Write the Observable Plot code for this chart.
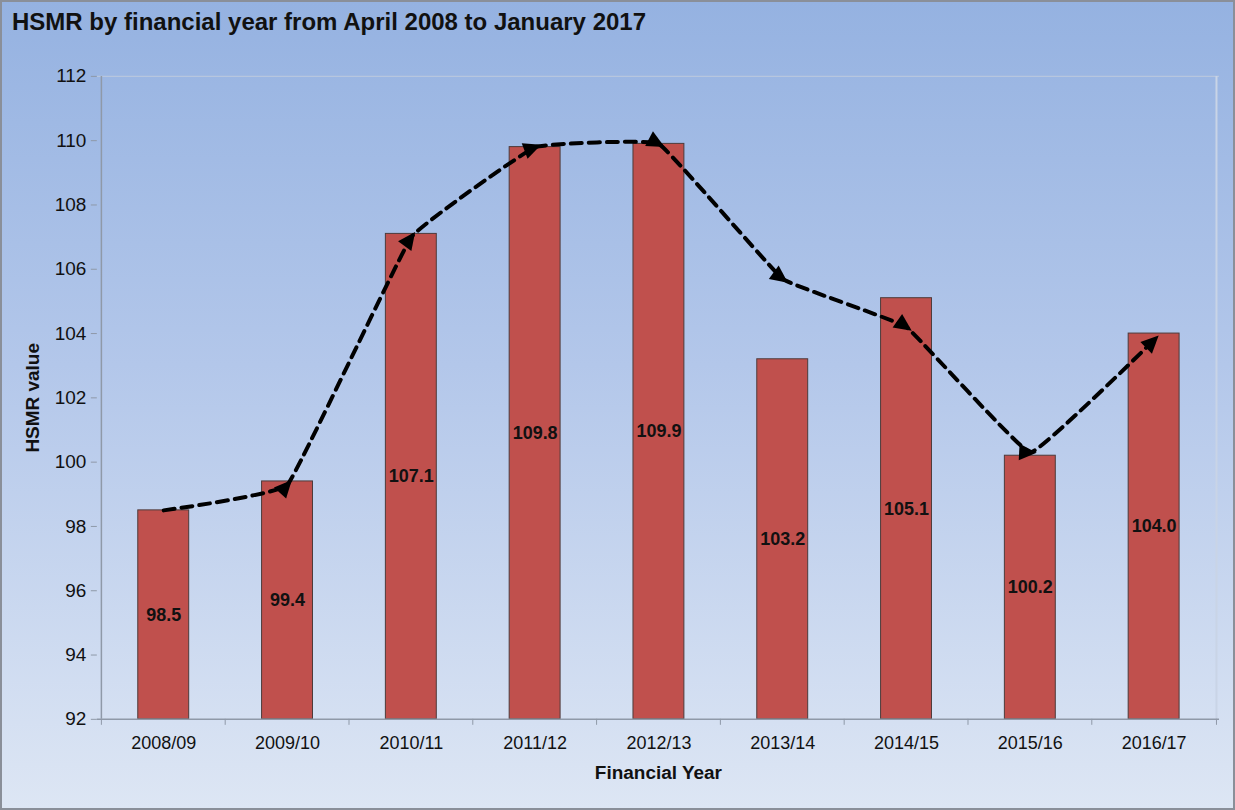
<!DOCTYPE html>
<html>
<head>
<meta charset="utf-8">
<script src="https://cdn.jsdelivr.net/npm/d3@7"></script>
<script src="https://cdn.jsdelivr.net/npm/@observablehq/plot@0.6"></script>
<style>
  html, body { margin: 0; padding: 0; }
  #wrap {
    position: relative; width: 1235px; height: 810px; box-sizing: border-box;
    border: 2px solid #8a8f99;
    background: linear-gradient(to bottom, #95b2e1 0%, #b3c7ea 45%, #dde6f4 100%);
    font-family: "Liberation Sans", Arial, sans-serif;
    overflow: hidden;
  }
  #title {
    position: absolute; left: 10px; top: 6px;
    font-size: 24px; font-weight: bold; color: #111;
  }
  #chart { position: absolute; left: -2px; top: -2px; }
  #chart svg { background: transparent; }
  #chart [aria-label="y-axis label"] text, #chart [aria-label="x-axis label"] text { font-weight: bold; font-size: 19px; }
</style>
</head>
<body>
<div id="wrap">
  <div id="title">HSMR by financial year from April 2008 to January 2017</div>
  <div id="chart"></div>
</div>
<script>
const years = ["2008/09","2009/10","2010/11","2011/12","2012/13","2013/14","2014/15","2015/16","2016/17"];
const hsmr  = [98.5, 99.4, 107.1, 109.8, 109.9, 103.2, 105.1, 100.2, 104.0];
const trend = [98.5, 99.3, 107.0, 109.8, 109.9, 105.7, 104.2, 100.3, 103.8];
const yTicks = [92, 94, 96, 98, 100, 102, 104, 106, 108, 110, 112];

const W = 1235, H = 810, ML = 97, MR = 14, MT = 76, MB = 90;
const step = (W - ML - MR) / years.length;
const bars = years.map((y, i) => ({year: y, v: hsmr[i]}));
const line = years.map((y, i) => ({year: y, v: trend[i]}));

const plot = Plot.plot({
  width: W, height: H,
  marginLeft: ML, marginRight: MR, marginTop: MT, marginBottom: MB,
  style: {background: "transparent", fontFamily: "Liberation Sans, Arial, sans-serif", color: "#111"},
  x: {domain: years, paddingInner: 0.59, paddingOuter: 0.295, label: null},
  y: {domain: [92, 112], label: null},
  marks: [
    Plot.ruleY([112], {stroke: "#b7c6de", strokeWidth: 1.5}),
    Plot.ruleX([years[years.length - 1]], {dx: step / 2, stroke: "#c9d4e6", strokeWidth: 2}),
    Plot.barY(bars, {x: "year", y1: 92, y2: "v", fill: "#C0504D", stroke: "#4d3b3b", strokeWidth: 1}),
    Plot.text(bars, {x: "year", y: d => (d.v + 92) / 2, text: d => d.v.toFixed(1), fontSize: 18, fontWeight: "bold", fill: "#111"}),
    Plot.line(line, {x: "year", y: "v", curve: "cardinal", tension: 0.78, stroke: "#000", strokeWidth: 4,
      strokeDasharray: "11,7", markerMid: "arrow", markerEnd: "arrow"}),
    Plot.ruleX([years[0]], {dx: -step / 2, stroke: "#8f99a8", strokeWidth: 1.5}),
    Plot.ruleY([92], {stroke: "#8f99a8", strokeWidth: 1.5}),
    Plot.ruleX(years, {y1: 92, y2: 92, insetBottom: -6, dx: -step / 2, stroke: "#8f99a8"}),
    Plot.ruleX([years[years.length - 1]], {y1: 92, y2: 92, insetBottom: -6, dx: step / 2, stroke: "#8f99a8"}),
    Plot.axisY({ticks: yTicks, tickSize: 6, tickPadding: 5, fontSize: 19, stroke: "#8f99a8",
      label: "HSMR value", labelAnchor: "center", labelArrow: false, labelOffset: 72}),
    Plot.axisX({tickSize: 0, tickPadding: 17, fontSize: 18,
      label: "Financial Year", labelAnchor: "center", labelArrow: false, labelOffset: 60})
  ]
});

// turn the line's arrow markers into filled triangles
plot.querySelectorAll("marker").forEach(m => {
  m.setAttribute("fill", "#000");
  m.setAttribute("stroke", "none");
  const p = m.querySelector("path");
  if (p) p.setAttribute("d", "M-4.2,-3.1L2.4,0L-4.2,3.1Z");
});

document.getElementById("chart").appendChild(plot);
</script>
</body>
</html>
